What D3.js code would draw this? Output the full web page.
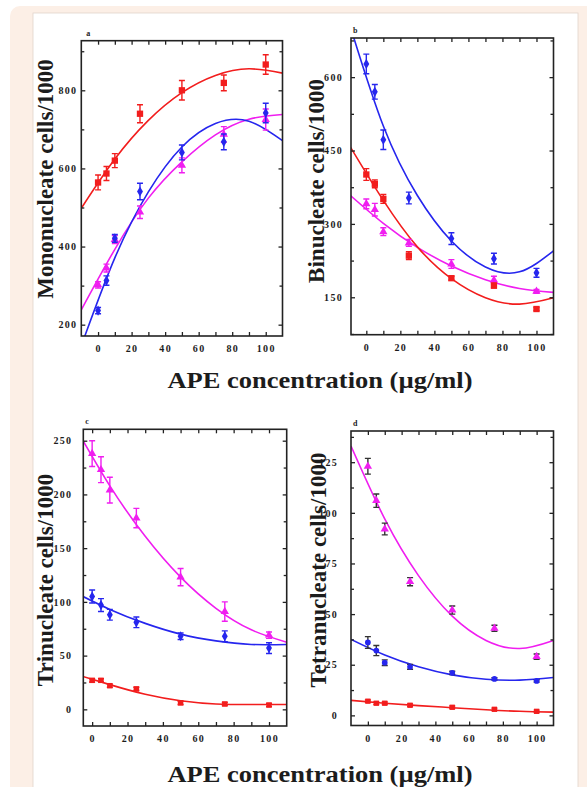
<!DOCTYPE html>
<html>
<head>
<meta charset="utf-8">
<script src="https://cdn.jsdelivr.net/npm/d3@7"></script>
<style>
    body { margin: 0; background: #fff; }
    svg text { font-family: "Liberation Serif", "Times New Roman", serif; font-weight: bold; fill: #1c1c1c; }
</style>
</head>
<body>
<svg id="fig" width="587" height="787"></svg>
<script>
"use strict";

// doses (APE µg/ml) and x positions at which the fitted curves were read
var doses = [0, 5, 10, 25, 50, 75, 100];
var fitX = [-10, 10, 30, 50, 70, 90, 110];

// a - mononucleate
var monoRed = [564, 587, 620, 740, 800, 819, 866];
var monoRedErr = [19, 18, 18, 23, 25, 20, 25];
var monoBlue = [236, 313, 421, 541, 641, 668, 742];
var monoBlueErr = [8, 12, 10, 21, 19, 20, 25];
var monoPink = [302, 345, 418, 488, 608, 687, 725];
var monoPinkErr = [8, 10, 10, 16, 19, 20, 27];
var monoRedFit = [498, 624, 723, 794, 838, 855, 844];
var monoBlueFit = [146, 371, 540, 655, 715, 721, 671];
var monoPinkFit = [238, 393, 524, 617, 686, 726, 738];

// b - binucleate
var biBlue = [627, 570, 472, 353, 270, 229, 200];
var biBlueErr = [20, 15, 20, 12, 12, 11, 9];
var biRed = [401, 382, 351, 235, 189, 174, 126];
var biRedErr = [12, 8, 9, 8, 4, 5, 3];
var biPink = [341, 329, 284, 261, 218, 185, 162];
var biPinkErr = [10, 13, 8, 7, 9, 8, 4];
var biBlueFit = [710, 500, 358, 265, 212, 202, 245];
var biRedFit = [461, 348, 253, 188, 149, 136, 149];
var biPinkFit = [360, 301, 252, 214, 186, 168, 160];

// c - trinucleate
var triPink = [238, 223, 204, 178, 123, 91, 69];
var triPinkErr = [12, 12, 12, 9, 8, 9, 3];
var triBlue = [105, 97, 88, 81, 68, 68, 57];
var triBlueErr = [6, 6, 5, 5, 3, 5, 5];
var triRed = [27, 27, 22, 19, 6, 5, 4];
var triRedErr = [1.5, 1.5, 1.5, 1.5, 1.5, 1.5, 1.5];
var triPinkFit = [264, 208, 161, 123, 94, 74, 62.5];
var triBlueFit = [109, 93, 80, 70, 63.7, 60.4, 60.4];
var triRedFit = [33, 23, 14, 8, 5, 4.5, 4.5];

// d - tetranucleate
var tetraPink = [123, 106, 92, 66, 52, 43, 29];
var tetraPinkErr = [3.9, 3.3, 2.9, 2, 2, 1.5, 1.3];
var tetraBlue = [36, 32, 26, 24, 21, 18, 17];
var tetraBlueErr = [2.9, 2.5, 1.4, 1.2, 0.8, 0.6, 0.6];
var tetraRed = [7, 6, 6, 5, 4, 3, 2];
var tetraRedErr = [0.6, 0.6, 0.6, 0.6, 0.6, 0.6, 0.6];
var tetraPinkFit = [133, 97, 69, 49, 37, 33, 37];
var tetraBlueFit = [37.5, 29.8, 24, 20, 17.8, 17.4, 18.7];
var tetraRedFit = [7.4, 6, 4.8, 3.8, 2.8, 2, 1.6];

var xMajor = [0, 20, 40, 60, 80, 100];
var xMinor = [10, 30, 50, 70, 90];

var RED = "#f21d1d", BLUE = "#2626ee", PINK = "#f01ef0";

var svg = d3.select("#fig");

// page background: beige card with white sheet
svg.append("rect").attr("width", 587).attr("height", 787).attr("fill", "#fff");
svg.append("rect").attr("x", 10).attr("y", 6).attr("width", 620).attr("height", 820)
    .attr("rx", 10).attr("fill", "#fcefe6");
svg.append("rect").attr("x", 33).attr("y", 13).attr("width", 545).attr("height", 800)
    .attr("fill", "#fff").attr("stroke", "#e2d4cb").attr("stroke-width", 0.8);

var panels = [
    {
        id: "a", left: 81.3, right: 282.5, top: 40.7, bottom: 336,
        xDomain: [-10, 110], yDomain: [171, 927],
        yMajor: [200, 400, 600, 800], yMinor: [300, 500, 700, 900],
        labelGap: 4, title: "Mononucleate cells/1000", titleX: 53, titleY: 179,
        series: [
            { v: monoRed, e: monoRedErr, f: monoRedFit, c: RED, ec: RED, sym: d3.symbolSquare, size: 40 },
            { v: monoPink, e: monoPinkErr, f: monoPinkFit, c: PINK, ec: PINK, sym: d3.symbolTriangle, size: 30 },
            { v: monoBlue, e: monoBlueErr, f: monoBlueFit, c: BLUE, ec: BLUE, sym: d3.symbolDiamond, size: 30 }
        ]
    },
    {
        id: "b", left: 351, right: 553.5, top: 38, bottom: 334.7,
        xDomain: [-9, 110], yDomain: [73.5, 680],
        yMajor: [150, 300, 450, 600], yMinor: [75, 225, 375, 525, 675],
        labelGap: 8, title: "Binucleate cells/1000", titleX: 324, titleY: 181,
        series: [
            { v: biBlue, e: biBlueErr, f: biBlueFit, c: BLUE, ec: BLUE, sym: d3.symbolDiamond, size: 30 },
            { v: biPink, e: biPinkErr, f: biPinkFit, c: PINK, ec: PINK, sym: d3.symbolTriangle, size: 30 },
            { v: biRed, e: biRedErr, f: biRedFit, c: RED, ec: RED, sym: d3.symbolSquare, size: 40 }
        ]
    },
    {
        id: "c", left: 83.3, right: 286.7, top: 429.3, bottom: 726,
        xDomain: [-5, 110], yDomain: [-15.5, 260.6],
        yMajor: [0, 50, 100, 150, 200, 250], yMinor: [25, 75, 125, 175, 225],
        labelGap: 11, title: "Trinucleate cells/1000", titleX: 53, titleY: 580,
        series: [
            { v: triPink, e: triPinkErr, f: triPinkFit, c: PINK, ec: PINK, sym: d3.symbolTriangle, size: 30 },
            { v: triBlue, e: triBlueErr, f: triBlueFit, c: BLUE, ec: BLUE, sym: d3.symbolDiamond, size: 30 },
            { v: triRed, e: triRedErr, f: triRedFit, c: RED, ec: RED, sym: d3.symbolSquare, size: 30 }
        ]
    },
    {
        id: "d", left: 351, right: 553.5, top: 431, bottom: 725.5,
        xDomain: [-10, 110], yDomain: [-5, 140.4],
        yMajor: [0, 25, 50, 75, 100, 125], yMinor: [12.5, 37.5, 62.5, 87.5, 112.5, 137.5],
        labelGap: 13, title: "Tetranucleate cells/1000", titleX: 326, titleY: 570,
        series: [
            { v: tetraPink, e: tetraPinkErr, f: tetraPinkFit, c: PINK, ec: "#333", sym: d3.symbolTriangle, size: 30 },
            { v: tetraBlue, e: tetraBlueErr, f: tetraBlueFit, c: BLUE, ec: "#333", sym: d3.symbolCircle, size: 26 },
            { v: tetraRed, e: tetraRedErr, f: tetraRedFit, c: RED, ec: RED, sym: d3.symbolSquare, size: 28 }
        ]
    }
];

panels.forEach(drawPanel);

// shared x axis titles
[388, 782].forEach(function (yy) {
    svg.append("text")
        .attr("x", 320).attr("y", yy)
        .attr("text-anchor", "middle")
        .attr("textLength", 305).attr("lengthAdjust", "spacingAndGlyphs")
        .style("font-size", "23px")
        .text("APE concentration (µg/ml)");
});

function drawPanel(p) {
    var x = d3.scaleLinear().domain(p.xDomain).range([p.left, p.right]),
        y = d3.scaleLinear().domain(p.yDomain).range([p.bottom, p.top]),
        g = svg.append("g"),
        clipId = "clip-" + p.id,
        line;

    g.append("clipPath").attr("id", clipId)
        .append("rect")
        .attr("x", p.left).attr("y", p.top)
        .attr("width", p.right - p.left).attr("height", p.bottom - p.top);

    line = d3.line()
        .x(function (d) { return x(d[0]); })
        .y(function (d) { return y(d[1]); })
        .curve(d3.curveNatural);

    // fitted curves
    p.series.forEach(function (s) {
        g.append("path")
            .datum(fitX.map(function (fx, i) { return [fx, s.f[i]]; }))
            .attr("clip-path", "url(#" + clipId + ")")
            .attr("fill", "none")
            .attr("stroke", s.c)
            .attr("stroke-width", 1.6)
            .attr("d", line);
    });

    // error bars + markers
    p.series.forEach(function (s) {
        var pts = doses.map(function (d, i) { return { x: d, v: s.v[i], e: s.e[i] }; }),
            bars = g.append("g").attr("stroke", s.ec).attr("stroke-width", 1.4).attr("fill", "none");

        bars.selectAll("path").data(pts).enter().append("path")
            .attr("d", function (d) {
                var cx = x(d.x), y0 = y(d.v - d.e), y1 = y(d.v + d.e);
                return "M" + cx + "," + y0 + "V" + y1 +
                    "M" + (cx - 3) + "," + y0 + "H" + (cx + 3) +
                    "M" + (cx - 3) + "," + y1 + "H" + (cx + 3);
            });

        g.append("g").selectAll("path").data(pts).enter().append("path")
            .attr("transform", function (d) { return "translate(" + x(d.x) + "," + y(d.v) + ")"; })
            .attr("d", d3.symbol().type(s.sym).size(s.size))
            .attr("fill", s.c);
    });

    // axes, ticks inward on all four sides
    var axes = g.append("g").attr("class", "axes");

    axes.append("g").attr("transform", "translate(0," + p.bottom + ")")
        .call(d3.axisBottom(x).tickValues(xMajor).tickSize(-4).tickPadding(9));
    axes.append("g").attr("transform", "translate(0," + p.bottom + ")")
        .call(d3.axisBottom(x).tickValues(xMinor).tickSize(-4).tickFormat(""));
    axes.append("g").attr("transform", "translate(0," + p.top + ")")
        .call(d3.axisTop(x).tickValues(xMajor.concat(xMinor)).tickSize(-4).tickFormat(""));

    axes.append("g").attr("transform", "translate(" + p.left + ",0)")
        .call(d3.axisLeft(y).tickValues(p.yMajor).tickSize(-4).tickPadding(p.labelGap));
    axes.append("g").attr("transform", "translate(" + p.left + ",0)")
        .call(d3.axisLeft(y).tickValues(p.yMinor).tickSize(-3).tickFormat(""));
    axes.append("g").attr("transform", "translate(" + p.right + ",0)")
        .call(d3.axisRight(y).tickValues(p.yMajor).tickSize(-4).tickFormat(""));
    axes.append("g").attr("transform", "translate(" + p.right + ",0)")
        .call(d3.axisRight(y).tickValues(p.yMinor).tickSize(-3).tickFormat(""));

    axes.selectAll(".domain").remove();
    axes.selectAll(".tick line").attr("stroke", "#222").attr("stroke-width", 1.3);
    axes.selectAll(".tick text")
        .attr("fill", "#333")
        .style("font-size", "10px")
        .style("letter-spacing", "1.3px");

    // frame
    g.append("rect")
        .attr("x", p.left).attr("y", p.top)
        .attr("width", p.right - p.left).attr("height", p.bottom - p.top)
        .attr("fill", "none").attr("stroke", "#222").attr("stroke-width", 1.6);

    // panel letter
    g.append("text")
        .attr("x", p.left + (p.id === "a" ? 5 : 2)).attr("y", p.top - 5)
        .style("font-size", "8px")
        .text(p.id);

    // y title
    g.append("text")
        .attr("transform", "translate(" + p.titleX + "," + p.titleY + ") rotate(-90)")
        .attr("text-anchor", "middle")
        .style("font-size", "23px")
        .text(p.title);
}
</script>
</body>
</html>
